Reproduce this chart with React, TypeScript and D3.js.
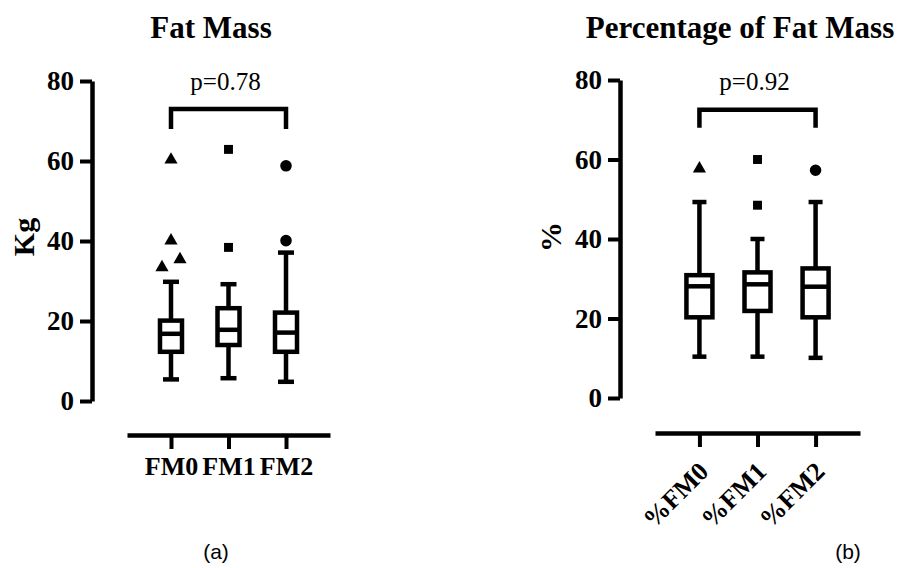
import React, { useEffect, useRef } from "react"
import * as d3 from "d3"

// groups
const groupsA = ["FM0", "FM1", "FM2"]
const groupsB = ["%FM0", "%FM1", "%FM2"]

// box stats per group: [min, q1, median, q3, max]
const statsA = [
  [5.4, 12.3, 16.8, 20.1, 29.8],
  [5.7, 14.0, 17.8, 23.2, 29.2],
  [4.8, 12.3, 17.1, 22.1, 37.1],
]
const statsB = [
  [10.4, 20.3, 28.1, 30.9, 49.3],
  [10.4, 21.9, 28.6, 31.6, 40.0],
  [10.1, 20.3, 28.0, 32.6, 49.3],
]

// outliers, plus a small side shift for the ones that overlap
const outliersA = [[60.3, 40.1, 33.4, 35.4], [62.9, 38.4], [58.8, 40.1]]
const shiftA = [[0, 0, -1, 1], [0, 0], [0, 0]]
const outliersB = [[57.7], [60.0, 48.5], [57.3]]
const shiftB = [[0], [0, 0], [0]]

const yTicks = [0, 20, 40, 60, 80]
const titles = ["Fat Mass", "Percentage of Fat Mass"]
const yLabels = ["Kg", "%"]
const pValues = ["p=0.78", "p=0.92"]
const brackets = [[73, 68], [72.5, 68]] // top, end
const tags = ["(a)", "(b)"]

const serif = "'Liberation Serif', 'Times New Roman', serif"
const symbols = [d3.symbolTriangle, d3.symbolSquare, d3.symbolCircle]
const symbolSizes = [75, 80, 105]

const panels = [
  {
    groups: groupsA, stats: statsA, outliers: outliersA, shift: shiftA,
    axisX: 92, yRange: [401, 81], xRange: [127, 330], xAxisY: 435,
    boxHalf: 11, capHalf: 8, rotate: false,
    title: titles[0], titleX: 211, ylabel: yLabels[0], ylabelX: 34,
    p: pValues[0], bracket: brackets[0], tag: tags[0], tagX: 216,
  },
  {
    groups: groupsB, stats: statsB, outliers: outliersB, shift: shiftB,
    axisX: 620, yRange: [398, 80], xRange: [655, 860], xAxisY: 433,
    boxHalf: 13, capHalf: 7, rotate: true,
    title: titles[1], titleX: 740, ylabel: yLabels[1], ylabelX: 561,
    p: pValues[1], bracket: brackets[1], tag: tags[1], tagX: 848,
  },
]

function drawPanel(svg, cfg) {
  const y = d3.scaleLinear().domain([0, 80]).range(cfg.yRange)
  const x = d3.scalePoint().domain(cfg.groups).range(cfg.xRange).padding(0.765)
  const g = svg.append("g")

  // title
  g.append("text")
    .attr("x", cfg.titleX).attr("y", 38)
    .attr("text-anchor", "middle")
    .style("font-family", serif).style("font-weight", "bold").style("font-size", "31px")
    .text(cfg.title)

  // y axis
  const ya = g.append("g")
    .attr("transform", `translate(${cfg.axisX},0)`)
    .call(d3.axisLeft(y).tickValues(yTicks).tickSize(12).tickSizeOuter(0).tickPadding(6))
  ya.select(".domain").attr("stroke", "#000").attr("stroke-width", 4.5)
  ya.selectAll(".tick line").attr("stroke", "#000").attr("stroke-width", 4)
  ya.selectAll(".tick text")
    .attr("fill", "#000")
    .style("font-family", serif).style("font-weight", "bold").style("font-size", "27px")

  g.append("text")
    .attr("transform", `translate(${cfg.ylabelX},237) rotate(-90)`)
    .attr("text-anchor", "middle")
    .style("font-family", serif).style("font-weight", "bold").style("font-size", "30px")
    .text(cfg.ylabel)

  // x axis
  const xa = g.append("g")
    .attr("transform", `translate(0,${cfg.xAxisY})`)
    .call(d3.axisBottom(x).tickSize(14).tickSizeOuter(0))
  xa.select(".domain").attr("stroke", "#000").attr("stroke-width", 4.5)
  xa.selectAll(".tick line").attr("stroke", "#000").attr("stroke-width", 4)
  const xt = xa.selectAll(".tick text")
    .attr("fill", "#000")
    .style("font-family", serif).style("font-weight", "bold").style("font-size", "26px")
  if (cfg.rotate) {
    xt.attr("x", 0).attr("y", 0).attr("dy", 0)
      .attr("text-anchor", "end")
      .attr("transform", "translate(10,40) rotate(-45)")
  } else {
    xt.attr("y", 0).attr("dy", 0).attr("transform", "translate(0,40)")
  }

  // boxes
  cfg.groups.forEach((name, i) => {
    const [mn, q1, med, q3, mx] = cfg.stats[i]
    const cx = x(name)
    const bg = g.append("g").attr("stroke", "#000").attr("stroke-width", 4.5).attr("fill", "none")
    bg.append("line").attr("x1", cx).attr("x2", cx).attr("y1", y(mx)).attr("y2", y(q3))
    bg.append("line").attr("x1", cx).attr("x2", cx).attr("y1", y(q1)).attr("y2", y(mn))
    bg.append("line").attr("x1", cx - cfg.capHalf).attr("x2", cx + cfg.capHalf).attr("y1", y(mx)).attr("y2", y(mx))
    bg.append("line").attr("x1", cx - cfg.capHalf).attr("x2", cx + cfg.capHalf).attr("y1", y(mn)).attr("y2", y(mn))
    bg.append("rect")
      .attr("x", cx - cfg.boxHalf).attr("width", cfg.boxHalf * 2)
      .attr("y", y(q3)).attr("height", y(q1) - y(q3))
      .attr("fill", "#fff")
    bg.append("line").attr("x1", cx - cfg.boxHalf).attr("x2", cx + cfg.boxHalf).attr("y1", y(med)).attr("y2", y(med))

    cfg.outliers[i].forEach((v, j) => {
      g.append("path")
        .attr("d", d3.symbol().type(symbols[i]).size(symbolSizes[i])())
        .attr("transform", `translate(${cx + cfg.shift[i][j] * 9},${y(v)})`)
        .attr("fill", "#000")
    })
  })

  // significance bracket
  const [top, end] = cfg.bracket
  const x0 = x(cfg.groups[0])
  const x2 = x(cfg.groups[2])
  g.append("path")
    .attr("d", `M${x0},${y(end)}V${y(top)}H${x2}V${y(end)}`)
    .attr("fill", "none").attr("stroke", "#000").attr("stroke-width", 4.5)
  g.append("text")
    .attr("x", (x0 + x2) / 2 - 3).attr("y", 90)
    .attr("text-anchor", "middle")
    .style("font-family", serif).style("font-size", "25px")
    .text(cfg.p)

  // panel tag
  g.append("text")
    .attr("x", cfg.tagX).attr("y", 559)
    .attr("text-anchor", "middle")
    .style("font-family", "'Liberation Sans', Arial, sans-serif").style("font-size", "21px")
    .text(cfg.tag)
}

export default function App() {
  const ref = useRef(null)
  useEffect(() => {
    const svg = d3.select(ref.current)
    svg.selectAll("*").remove()
    panels.forEach(p => drawPanel(svg, p))
  }, [])
  return (
    <svg
      ref={ref}
      width={902}
      height={568}
      style={{ position: "absolute", left: 0, top: 0, background: "#fff" }}
    />
  )
}
